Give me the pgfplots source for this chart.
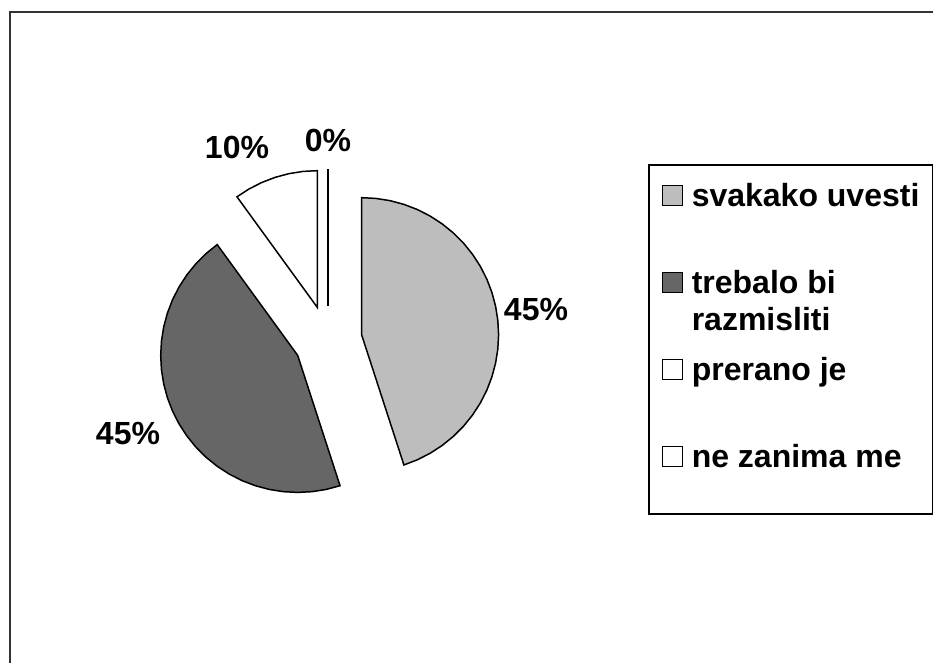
\documentclass[border=0pt]{standalone}
\usepackage{fontspec}
\setmainfont{Liberation Sans}
\usepackage{pgfplots}
\pgfplotsset{compat=1.18}
\definecolor{sliceA}{HTML}{BDBDBD}
\definecolor{sliceB}{HTML}{666666}
\pgfplotsset{
  sq/.style 2 args={legend image code/.code={\draw[fill=#1, draw=black, line width=0.5pt, shift={(#2:-17pt)}] (0pt,0.5pt) rectangle (10pt,10.5pt);}},
}
\begin{document}
\begin{tikzpicture}
\begin{axis}[
  hide axis, scale only axis,
  x=0.5pt, y=0.5pt,
  xmin=-328, xmax=605, ymin=-323, ymax=340,
  clip=false,
  legend style={at={(0.6945,0.7526)}, anchor=north west, draw=black, line width=0.8pt, fill=white,
    inner xsep=6.5pt, inner ysep=9pt, column sep=4.5pt, row sep=17.5pt,
    font=\fontsize{16pt}{18.5pt}\selectfont\bfseries,
    cells={anchor=base west},
    nodes={inner sep=0pt, text height=12pt, text depth=14pt}},
]
\path (axis cs:-328,-323) rectangle (axis cs:605,340);
\draw[line width=1pt, black!80] (axis cs:-318,-323) -- (axis cs:-318,328) -- (axis cs:605,328);

\addplot[fill=sliceA, draw=black, line width=0.75pt, data cs=polar, shift={(9:17pt)}, sq={sliceA}{9}] coordinates {
(0,0) (90,137) (84,137) (78,137) (72,137) (66,137) (60,137) (54,137) (48,137) (42,137) (36,137)
(30,137) (24,137) (18,137) (12,137) (6,137) (0,137) (-6,137) (-12,137) (-18,137) (-24,137)
(-30,137) (-36,137) (-42,137) (-48,137) (-54,137) (-60,137) (-66,137) (-72,137)} -- cycle;
\addlegendentry{svakako uvesti}

\addplot[fill=sliceB, draw=black, line width=0.75pt, data cs=polar, shift={(-153:17pt)}, sq={sliceB}{-153}] coordinates {
(0,0) (-72,137) (-78,137) (-84,137) (-90,137) (-96,137) (-102,137) (-108,137) (-114,137) (-120,137)
(-126,137) (-132,137) (-138,137) (-144,137) (-150,137) (-156,137) (-162,137) (-168,137) (-174,137)
(-180,137) (-186,137) (-192,137) (-198,137) (-204,137) (-210,137) (-216,137) (-222,137) (-228,137) (-234,137)} -- cycle;
\addlegendentry{\begin{tabular}[t]{@{}l@{}}trebalo bi\\razmisliti\end{tabular}}

\addplot[fill=white, draw=black, line width=0.75pt, data cs=polar, shift={(108:17pt)}, sq={white}{108}] coordinates {
(0,0) (126,137) (120,137) (114,137) (108,137) (102,137) (96,137) (90,137)} -- cycle;
\addlegendentry{prerano je}

\addplot[fill=white, draw=black, line width=0.75pt, data cs=polar, shift={(90:17pt)}, sq={white}{90}] coordinates {
(0,0) (90,137)};
\addlegendentry{ne zanima me}

\node[font=\fontsize{16pt}{18pt}\selectfont\bfseries] at (axis cs:208,30) {45\%};
\node[font=\fontsize{16pt}{18pt}\selectfont\bfseries] at (axis cs:-200,-94) {45\%};
\node[font=\fontsize{16pt}{18pt}\selectfont\bfseries] at (axis cs:-91,193) {10\%};
\node[font=\fontsize{16pt}{18pt}\selectfont\bfseries] at (axis cs:0,200) {0\%};
\end{axis}
\pgfresetboundingbox
\useasboundingbox (current axis.south west) rectangle (current axis.north east);
\end{tikzpicture}
\end{document}
